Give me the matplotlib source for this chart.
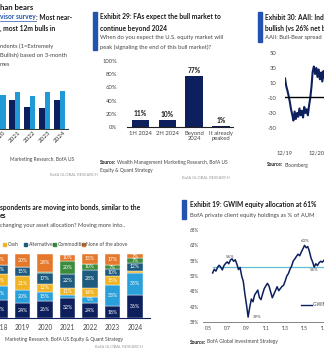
import matplotlib
matplotlib.use("Agg")
import matplotlib.pyplot as plt
import numpy as np
import pandas as pd

plt.rcParams['font.family'] = ['Lato', 'DejaVu Sans']

# ---------------- data ----------------
# Advisor survey: average sentiment score (1=Extremely Bearish ... Extremely Bullish)
sent_years = ['2020', '2021', '2022', '2023', '2024']
sent_near_term = [3.50, 3.45, 3.10, 3.05, 3.45]
sent_12m = [3.70, 3.85, 3.65, 3.85, 3.90]

# When will the U.S. equity market peak?
peak_labels = ['1H 2024', '2H 2024', 'Beyond\n2024', 'It already\npeaked']
peak_share = [11, 10, 77, 1]

# AAII bull-bear spread, every two weeks from Dec 2019
aaii_start = '2019-12-01'
aaii_spread = [16, 6, 0, -7, -15, -25, -32, -40, -28, -38,
               -30, -35, -24, -33, -27, -36, -22, -30, -25, -33,
               -20, -10, 5, 25, 32, 22, 30, 18, 28, 15,
               24, 12, 26, 16, 22, 10, 20, 14, 24, 12, 18]
aaii_ref = -8

# Asset allocation changes (share of respondents, %)
alloc_years = ['2018', '2019', '2020', '2021', '2022', '2023', '2024']
alloc_equities = [28, 24, 26, 32, 24, 18, 36]
alloc_bonds = [22, 20, 15, 4, 9, 33, 35]
alloc_cash = [18, 21, 12, 11, 14, 15, 3]
alloc_alternatives = [15, 15, 17, 22, 28, 10, 12]
alloc_commodities = [0, 0, 2, 20, 10, 7, 7]
alloc_none = [17, 20, 28, 10, 15, 17, 7]
alloc_names = ['Equities', 'Bonds', 'Cash', 'Alternatives', 'Commodities', 'None of the above']

# GWIM private client equity allocation (% of AUM), every two months from mid-2005
gwim_start = '2005-07-01'
gwim_equity = [54.0, 55.2, 54.6, 55.8, 56.5, 55.9, 55.0, 56.4, 57.1, 57.6,
               57.0, 58.2, 58.6, 57.8, 58.3, 56.9, 55.1, 55.8, 53.0, 51.2,
               47.0, 43.5, 39.6, 42.8, 45.5, 44.6, 46.8, 47.6, 48.4, 46.0,
               45.3, 47.2, 48.9, 49.8, 50.6, 49.7, 47.8, 45.9, 47.1, 48.3,
               49.5, 48.2, 48.9, 49.6, 50.0, 51.4, 53.0, 53.8, 55.2, 56.3,
               57.9, 58.6, 59.4, 60.1, 59.6, 60.8, 61.9, 63.0, 62.2, 62.6,
               61.1, 58.9, 57.6, 55.9, 57.0, 56.4, 57.3, 57.8, 57.5, 58.1]
gwim_avg = 56

# ---------------- layout helpers ----------------
W, H = 324, 357
fig = plt.figure(figsize=(W / 100, H / 100), dpi=100)
fig.patch.set_facecolor('white')
renderer = fig.canvas.get_renderer()


def box(x0, y0, x1, y1):
    return [x0 / W, 1 - y1 / H, (x1 - x0) / W, (y1 - y0) / H]


def txt(x, y, s, **kw):
    kw.setdefault('va', 'center')
    kw.setdefault('ha', 'left')
    return fig.text(x / W, 1 - y / H, s, **kw)


def runs(x, y, parts, gap=1.2):
    """Draw consecutive text runs with different styles on one line."""
    t = None
    for s, kw in parts:
        t = txt(x, y, s, **kw)
        x = t.get_window_extent(renderer).x1 * W / fig.bbox.width + gap
    return t


NAVY = '#0d1f5c'
SKY = '#1f9ad6'
ACCENT = '#2452b0'
TITLE = '#1a1a1a'
BODY = '#454545'
FAINT = '#9a9a9a'

TS = 4.8   # title size
BS = 4.25  # body size
SS = 3.5   # source size


def accent_bar(x, y0, y1):
    fig.patches.append(plt.Rectangle((x / W, 1 - y1 / H), 3.5 / W, (y1 - y0) / H,
                                     transform=fig.transFigure, color=ACCENT, zorder=5))


def bare(ax):
    for s in ax.spines.values():
        s.set_visible(False)
    ax.set_facecolor('none')
    ax.tick_params(length=0)


BOLD = dict(fontsize=TS, fontweight='bold', color=TITLE)
SRC_B = dict(fontsize=SS, fontweight='bold', color=TITLE)
SRC = dict(fontsize=SS, color=BODY)

# ================= top-left: advisor sentiment =================
txt(0, 7, 'han bears', fontsize=5.6, fontweight='bold', color=TITLE)
t = txt(0, 17, 'visor survey', fontsize=TS, fontweight='bold', color=ACCENT)
x_end = t.get_window_extent(renderer).x1 * W / fig.bbox.width
txt(x_end, 17, ': Most near-', **BOLD)
fig.add_artist(plt.Line2D([0, x_end / W], [1 - 20.5 / H] * 2,
                          transform=fig.transFigure, color=ACCENT, lw=0.5))
txt(0, 28, ', most 12m bulls in', **BOLD)
txt(0, 46, 'ndents (1=Extremely', fontsize=BS, color=BODY)
txt(0, 55, 'Bullish) based on 3-month', fontsize=BS, color=BODY)
txt(0, 64, 'mes', fontsize=BS, color=BODY)

ax1 = fig.add_axes(box(0, 79, 68, 129))
bare(ax1)
ax1.spines['bottom'].set_visible(True)
ax1.spines['bottom'].set_color('#333333')
ax1.spines['bottom'].set_linewidth(0.7)
xi = np.arange(len(sent_years))
bw = 0.37
ax1.bar(xi - bw / 2, sent_near_term, width=bw, color=NAVY)
ax1.bar(xi + bw / 2, sent_12m, width=bw, color=SKY)
ax1.set_ylim(2.0, 4.5)
ax1.set_xlim(0.033, 4.57)
ax1.set_yticks([])
ax1.set_xticks(xi)
ax1.set_xticklabels(sent_years, rotation=45, ha='center', fontsize=4.5, color='#333333')
ax1.tick_params(axis='x', pad=1.0)
txt(10, 160, 'Marketing Research, BofA US', **SRC)
txt(50, 175, 'BofA GLOBAL RESEARCH', fontsize=3.0, color=FAINT)

# ================= top-middle: expected peak =================
accent_bar(93, 12, 50)
txt(100, 17, 'Exhibit 29: FAs expect the bull market to', **BOLD)
txt(100, 28, 'continue beyond 2024', **BOLD)
txt(100, 38, 'When do you expect the U.S. equity market will', fontsize=BS, color=BODY)
txt(100, 47, 'peak (signaling the end of this bull market)?', fontsize=BS, color=BODY)

ax2 = fig.add_axes(box(127, 61, 233, 127))
bare(ax2)
ax2.spines['bottom'].set_visible(True)
ax2.spines['bottom'].set_color('#222222')
ax2.spines['bottom'].set_linewidth(0.8)
px = np.arange(len(peak_labels))
ax2.bar(px, peak_share, width=0.65, color=NAVY)
for xv, v in zip(px, peak_share):
    ax2.text(xv, v + 4, f'{v}%', ha='center', va='bottom', fontsize=4.8,
             fontweight='bold', color=TITLE)
ax2.set_ylim(0, 100)
ax2.set_xlim(-0.5, 3.45)
ax2.set_yticks(range(0, 101, 20))
ax2.set_yticklabels([f'{v}%' for v in range(0, 101, 20)], fontsize=BS, color=BODY)
ax2.tick_params(axis='y', pad=7)
ax2.set_xticks(px)
ax2.set_xticklabels(peak_labels, fontsize=BS, color=BODY, linespacing=1.0)
ax2.tick_params(axis='x', pad=3)
runs(100, 163, [('Source:', SRC_B), ('Wealth Management Marketing Research, BofA US', SRC)])
txt(100, 170.5, 'Equity & Quant Strategy', **SRC)
txt(182, 178, 'BofA GLOBAL RESEARCH', fontsize=3.0, color=FAINT)

# ================= top-right: AAII spread =================
accent_bar(258, 12, 42)
txt(265, 17, 'Exhibit 30: AAII: Individual investors', **BOLD)
txt(265, 28, 'bullish (vs 26% net bearish', **BOLD)
txt(265, 37, 'AAII: Bull-Bear spread', fontsize=BS, color=BODY)

ax3 = fig.add_axes(box(285, 53, 340, 128))
bare(ax3)
ad = pd.date_range(aaii_start, periods=len(aaii_spread), freq='14D')
ax3.axhline(aaii_ref, color='#000000', lw=1.0, zorder=3)
ax3.plot(ad, aaii_spread, color=NAVY, lw=1.5, zorder=2)
ax3.set_ylim(-50, 50)
ax3.set_yticks(range(-50, 51, 20))
ax3.set_yticklabels([str(v) for v in range(-50, 51, 20)], fontsize=BS, color=BODY)
ax3.tick_params(axis='y', pad=6)
ax3.set_xlim(pd.Timestamp('2019-12-01'), pd.Timestamp('2021-09-01'))
xt = [pd.Timestamp('2019-12-01'), pd.Timestamp('2020-12-01')]
ax3.set_xticks(xt)
ax3.set_xticklabels(['12/19', '12/20'], fontsize=BS, color=BODY)
ax3.tick_params(axis='x', pad=16)
runs(267, 165, [('Source:', SRC_B), ('Bloomberg', SRC)])

# ================= bottom-left: allocation changes =================
txt(0, 207, 'spondents are moving into bonds, similar to the', **BOLD)
txt(0, 216, 'es', **BOLD)
txt(0, 226, 'changing your asset allocation? Moving more into..', fontsize=4.1, color=BODY)

alloc_colors = [NAVY, '#2aa0da', '#f0b323', '#1d5a7e', '#3b8c3c', '#e5782b']
leg_x = [3, 24, 53, 82]
for lx, name, col in zip(leg_x, alloc_names[2:], alloc_colors[2:]):
    fig.patches.append(plt.Rectangle((lx / W, 1 - 246 / H), 3 / W, 3 / H,
                                     transform=fig.transFigure, color=col))
    txt(lx + 4.5, 244.3, name, fontsize=3.6, color=BODY)

ax4 = fig.add_axes(box(0, 254, 150, 318))
bare(ax4)
ax4.spines['bottom'].set_visible(True)
ax4.spines['bottom'].set_color(NAVY)
ax4.spines['bottom'].set_linewidth(0.8)
ai = np.arange(len(alloc_years))
series = [alloc_equities, alloc_bonds, alloc_cash, alloc_alternatives,
          alloc_commodities, alloc_none]
bottom = np.zeros(len(alloc_years))
for vals, col in zip(series, alloc_colors):
    vals = np.array(vals, dtype=float)
    ax4.bar(ai, vals, bottom=bottom, width=0.70, color=col, edgecolor='white', linewidth=0.3)
    for x, b, v in zip(ai, bottom, vals):
        if v >= 7:
            ax4.text(x, b + v / 2, f'{int(v)}%', ha='center', va='center',
                     fontsize=3.7, color='white', clip_on=True)
    bottom += vals
ax4.set_ylim(0, 100)
ax4.set_xlim(0.088, 6.67)
ax4.set_yticks([])
ax4.set_xticks(ai)
ax4.set_xticklabels(alloc_years, fontsize=4.7, color=BODY)
ax4.tick_params(axis='x', pad=4)
txt(5, 340, 'Marketing Research, BofA US Equity & Quant Strategy', **SRC)
txt(95, 347, 'BofA GLOBAL RESEARCH', fontsize=3.0, color=FAINT)

# ================= bottom-right: GWIM equity allocation =================
accent_bar(182, 200, 219)
txt(190, 205, 'Exhibit 19: GWIM equity allocation at 61%', **BOLD)
txt(190, 215, 'BofA private client equity holdings as % of AUM', fontsize=BS, color=BODY)

ax5 = fig.add_axes(box(203, 230, 340, 322))
bare(ax5)
ax5.spines['bottom'].set_visible(True)
ax5.spines['bottom'].set_color('#555555')
ax5.spines['bottom'].set_linewidth(0.5)
gd = pd.date_range(gwim_start, periods=len(gwim_equity), freq='2MS')
ax5.plot([gd[0], gd[-1]], [gwim_avg, gwim_avg], color='#62bfd3', lw=0.9)
ax5.plot(gd, gwim_equity, color=NAVY, lw=1.1)
ax5.set_ylim(38, 68)
yt = list(range(38, 69, 5))
ax5.set_yticks(yt)
ax5.set_yticklabels([f'{v}%' for v in yt], fontsize=3.3, color=BODY)
ax5.tick_params(axis='y', pad=3)
ax5.set_xlim(pd.Timestamp('2004-07-01'), pd.Timestamp('2018-09-01'))
xts = [pd.Timestamp(f'{y}-01-01') for y in range(2005, 2019, 2)]
ax5.set_xticks(xts)
ax5.set_xticklabels([f"'{y % 100:02d}" for y in range(2005, 2019, 2)], fontsize=3.6, color=BODY)
ax5.tick_params(axis='x', pad=3)
ax5.text(pd.Timestamp('2007-05-01'), 58.8, '56%', fontsize=3.2, color=BODY, ha='center')
ax5.text(pd.Timestamp('2015-01-01'), 64.2, '63%', fontsize=3.2, color=BODY, ha='center')
ax5.text(pd.Timestamp('2009-09-01'), 39.5, '39%', fontsize=3.2, color=BODY, ha='left', va='center')
ax5.text(pd.Timestamp('2016-01-01'), 54.8, '56%', fontsize=3.2, color=BODY, ha='center', va='center')
ax5.plot([pd.Timestamp('2014-08-01'), pd.Timestamp('2015-10-01')], [43.6, 43.6], color=NAVY, lw=1.0)
ax5.text(pd.Timestamp('2015-12-01'), 43.6, 'GWIM equity allocation', fontsize=3.4, color=BODY, va='center')
runs(190, 342, [('Source:', SRC_B), ('BofA Global Investment Strategy', SRC)])

fig.savefig('out.png', dpi=100, facecolor='white')
